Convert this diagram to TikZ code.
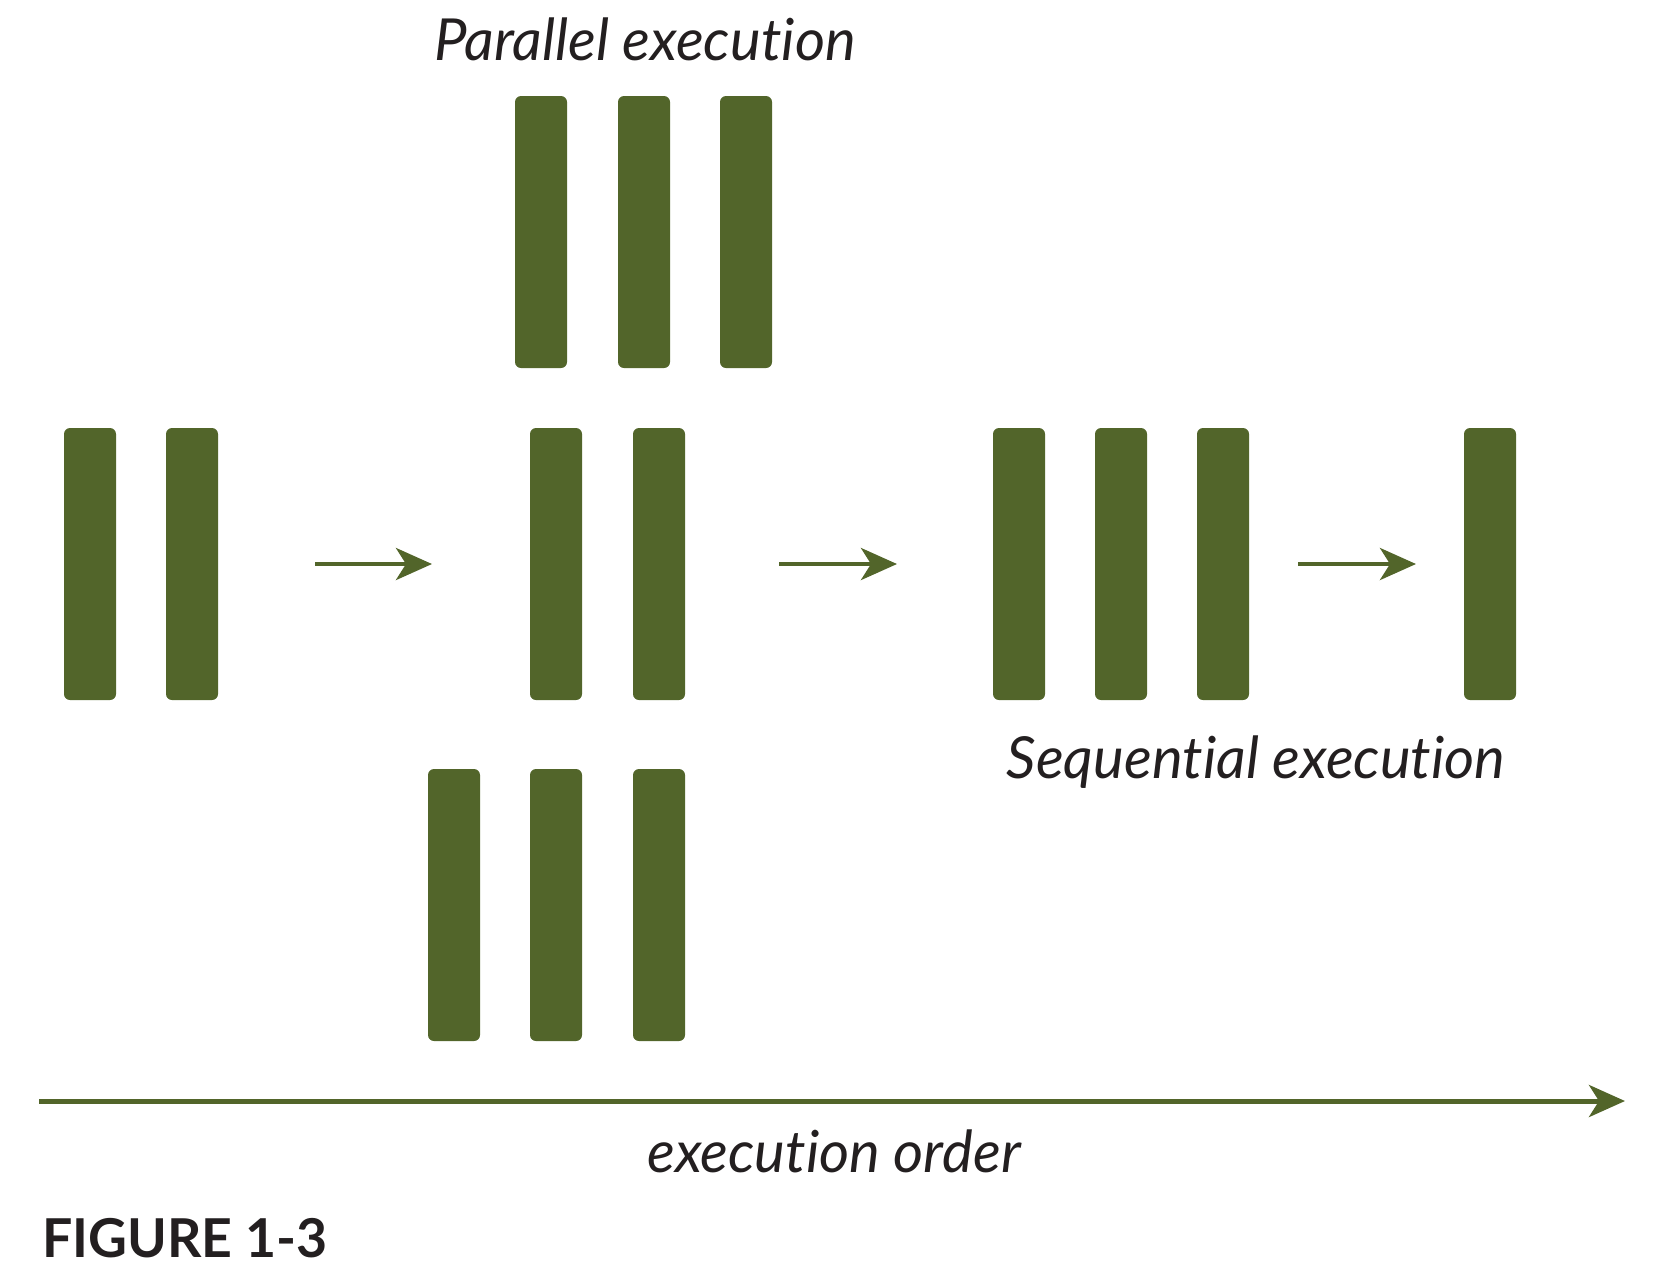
\documentclass[tikz,border=0pt]{standalone}
\usepackage{fontspec}
\setmainfont{Lato}[Ligatures={NoCommon,NoContextual},RawFeature={-liga;-clig;-calt;-dlig}]
\usetikzlibrary{arrows.meta,positioning}
\definecolor{barcol}{HTML}{52652A}
\definecolor{txtcol}{HTML}{231F20}
\begin{document}
\begin{tikzpicture}[x=0.5pt,y=-0.5pt,
  bar/.style={fill=barcol,rounded corners=3pt,minimum width=26pt,minimum height=136pt,inner sep=0pt},
  arr/.style={draw=barcol,line width=2.2pt,-{Stealth[length=18pt,width=16pt,inset=5pt]}},
  lbl/.style={text=txtcol,font=\itshape\fontsize{29}{34}\selectfont,inner sep=0pt}]
\useasboundingbox (0,0) rectangle (1665,1282);
% groups of bars
\foreach \i/\x in {1/90,2/192} \node[bar] (a\i) at (\x,564) {};
\foreach \i/\x in {1/541,2/644,3/746} \node[bar] (t\i) at (\x,232) {};
\foreach \i/\x in {1/556,2/659} \node[bar] (m\i) at (\x,564) {};
\foreach \i/\x in {1/454,2/556,3/659} \node[bar] (b\i) at (\x,905) {};
\foreach \i/\x in {1/1019,2/1121,3/1223} \node[bar] (s\i) at (\x,564) {};
\node[bar] (e1) at (1490,564) {};
% arrows between steps
\coordinate (p1) at (315,564); \coordinate (q1) at (432,564);
\coordinate (p2) at (779,564); \coordinate (q2) at (897,564);
\coordinate (p3) at (1298,564); \coordinate (q3) at (1416,564);
\draw[arr] (p1) -- (q1);
\draw[arr] (p2) -- (q2);
\draw[arr] (p3) -- (q3);
% time axis
\coordinate (o1) at (39,1101); \coordinate (o2) at (1625,1101);
\draw[arr,line width=2.5pt] (o1) -- (o2);
% labels
\node[lbl] (par) at (645,39) {Parallel execution};
\node[lbl] (seq) at (1256,762) {Sequential execution};
\node[lbl] (ord) at (834,1151) {execution order};
\node[text=txtcol,font=\bfseries\fontsize{26.8}{31}\selectfont,anchor=west,inner sep=0pt] (fig) at (42,1238) {FIGURE 1-3};
\end{tikzpicture}
\end{document}
